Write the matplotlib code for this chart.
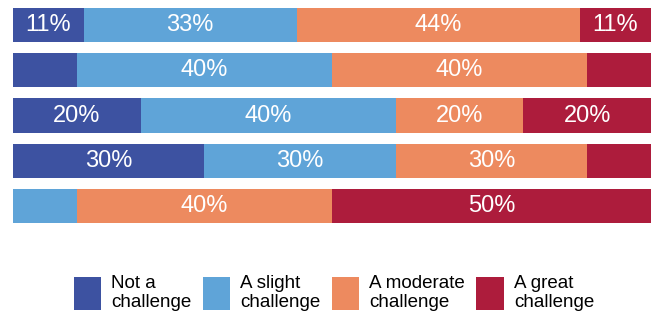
import matplotlib.pyplot as plt
from matplotlib.patches import Patch

plt.rcParams['font.family'] = ['Liberation Sans', 'DejaVu Sans']

# data
categories = ["Q1", "Q2", "Q3", "Q4", "Q5"]
levels = ["Not a\nchallenge", "A slight\nchallenge", "A moderate\nchallenge", "A great\nchallenge"]
not_a = [11, 10, 20, 30, 0]
slight = [33, 40, 40, 30, 10]
moderate = [44, 40, 20, 30, 40]
great = [11, 10, 20, 10, 50]
colors = ["#3d52a1", "#5fa4d8", "#ed8a5f", "#ad1c3c"]

series = [not_a, slight, moderate, great]
totals = [sum(r) for r in zip(*series)]

fig = plt.figure(figsize=(6.54, 3.14), dpi=100)
ax = fig.add_axes([13 / 654, 1 - 223 / 314, 638 / 654, 215 / 314])

h = 0.755
left = [0] * len(categories)
for vals, col in zip(series, colors):
    widths = [v / t * 100 for v, t in zip(vals, totals)]
    bars = ax.barh(range(len(categories)), widths, left=left, height=h, color=col, linewidth=0)
    for b, v in zip(bars, vals):
        if v > 10:
            ax.text(b.get_x() + b.get_width() / 2, b.get_y() + b.get_height() / 2, f"{v}%",
                    ha="center", va="center", color="white", fontsize=17)
    left = [l + w for l, w in zip(left, widths)]

ax.set_xlim(0, 100)
ax.set_ylim(len(categories) - 1 + h / 2, -h / 2)
ax.axis("off")

handles = [Patch(facecolor=c, edgecolor="none") for c in colors]
fig.legend(handles, levels, loc="center", bbox_to_anchor=(334 / 654, 1 - 293 / 314),
           ncol=4, frameon=False, fontsize=13.5, handlelength=1.45, handleheight=2.3,
           handletextpad=0.55, columnspacing=0.6, labelspacing=0.2,
           borderpad=0, borderaxespad=0)

fig.savefig("out.png", dpi=100)
